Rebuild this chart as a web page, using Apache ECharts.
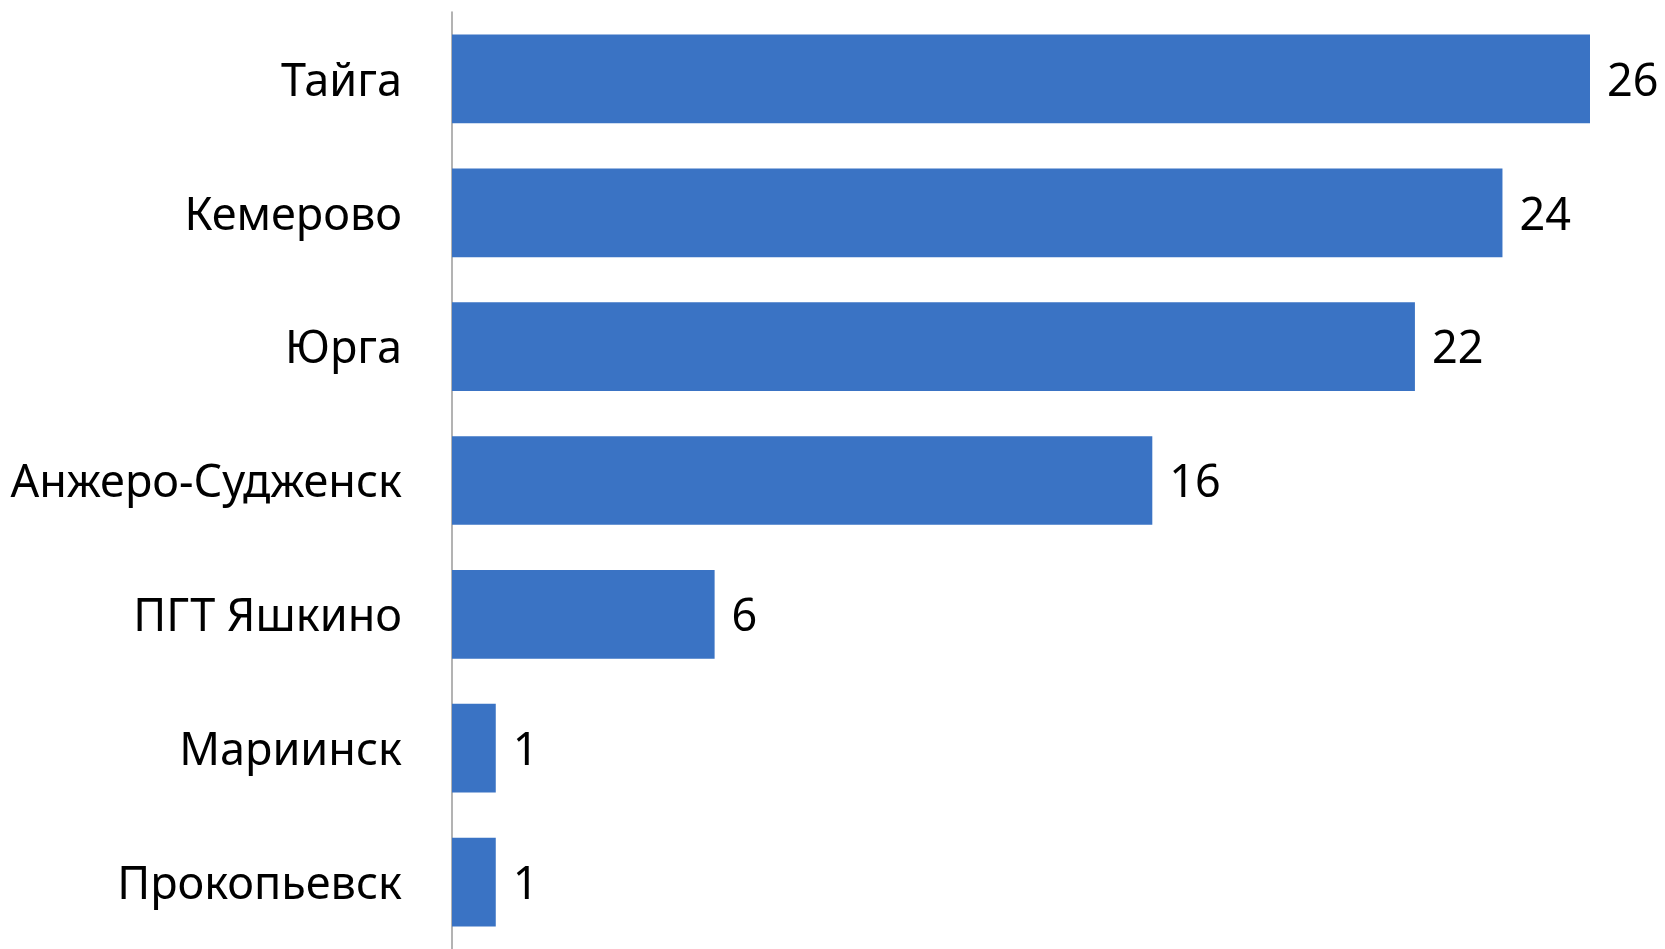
<!DOCTYPE html>
<html><head><meta charset="utf-8">
<script src="https://cdn.jsdelivr.net/npm/echarts@6/dist/echarts.min.js"></script>
<style>html,body{margin:0;padding:0;background:#fff;}#c{width:1665px;height:949px;}</style>
</head><body><div id="c"></div>
<script>
const categories = ['Тайга','Кемерово','Юрга','Анжеро-Судженск','ПГТ Яшкино','Мариинск','Прокопьевск'];
const values = [26, 24, 22, 16, 6, 1, 1];
const FONT = '"Noto Sans", sans-serif';
const chart = echarts.init(document.getElementById('c'));
chart.setOption({
  animation: false,
  grid: {left: 452, right: 75, top: 12, height: 940, containLabel: false},
  xAxis: {type: 'value', min: 0, max: 26, show: false},
  yAxis: {
    type: 'category', data: categories, inverse: true,
    axisLine: {show: true, lineStyle: {color: '#9a9a9a', width: 1.5}},
    axisTick: {show: false},
    axisLabel: {
      color: '#000', fontFamily: FONT, fontSize: 45, margin: 50,
      formatter: '{a|{value}}',
      rich: {a: {color: '#000', fontFamily: FONT, fontSize: 45, padding: [8, 0, 0, 0]}}
    }
  },
  series: [{
    type: 'bar', data: values, barCategoryGap: '33.7%',
    itemStyle: {color: '#3A73C4'},
    label: {show: true, position: 'right', distance: 17, offset: [0, 4], color: '#000', fontFamily: FONT, fontSize: 45}
  }]
});
</script></body></html>
